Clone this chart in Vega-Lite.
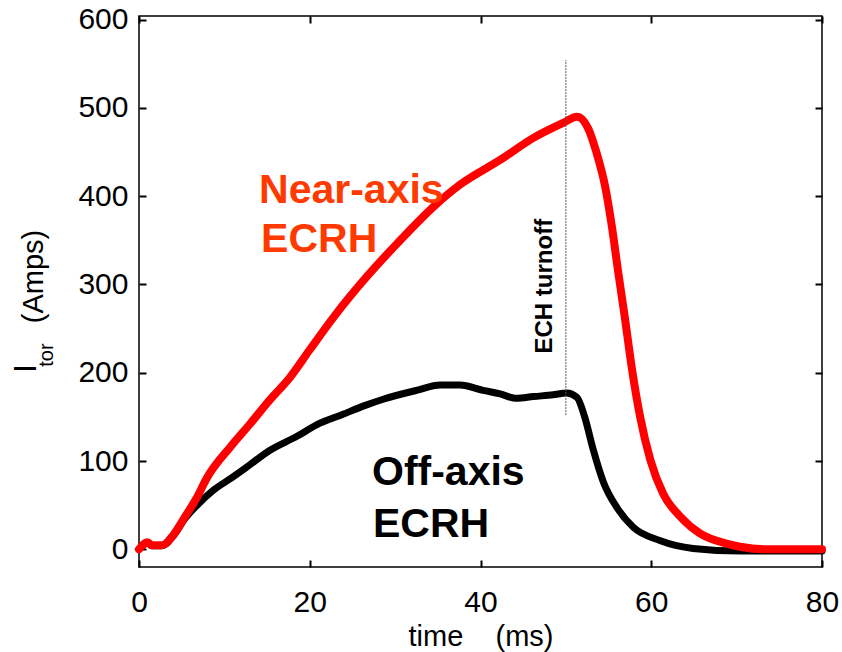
{
  "$schema": "https://vega.github.io/schema/vega-lite/v6.json",
  "width": 683,
  "height": 551,
  "autosize": {"type": "none"},
  "padding": {"left": 139, "top": 16, "right": 20, "bottom": 85},
  "background": "white",
  "config": {
    "view": {"stroke": "black", "strokeWidth": 1.5},
    "axis": {
      "grid": false,
      "domain": false,
      "ticks": true,
      "tickColor": "black",
      "tickSize": 7,
      "tickWidth": 2,
      "labelFlush": false,
      "labelOverlap": false,
      "labelFont": "Liberation Sans",
      "labelFontSize": 30,
      "labelColor": "black",
      "titleFont": "Liberation Sans",
      "titleFontSize": 29,
      "titleFontWeight": "normal",
      "titleColor": "black"
    },
    "text": {"font": "Liberation Sans"}
  },
  "datasets": {
    "offAxis": [
      {"t": 0, "amps": 0}, {"t": 1.0, "amps": 7}, {"t": 1.5, "amps": 4}, {"t": 2.7, "amps": 4},
      {"t": 4.0, "amps": 15}, {"t": 5.4, "amps": 35}, {"t": 6.8, "amps": 50}, {"t": 8.7, "amps": 67},
      {"t": 10.7, "amps": 80}, {"t": 12.6, "amps": 93}, {"t": 15.3, "amps": 112}, {"t": 18.5, "amps": 128},
      {"t": 20.8, "amps": 141}, {"t": 23.9, "amps": 153}, {"t": 26.5, "amps": 163}, {"t": 28.6, "amps": 170},
      {"t": 32.5, "amps": 180}, {"t": 35.3, "amps": 186}, {"t": 37.6, "amps": 186}, {"t": 40.3, "amps": 180},
      {"t": 42.3, "amps": 176}, {"t": 44.2, "amps": 171}, {"t": 46.2, "amps": 173}, {"t": 48.5, "amps": 175},
      {"t": 50.1, "amps": 177}, {"t": 51.3, "amps": 172}, {"t": 52.2, "amps": 150}, {"t": 53.2, "amps": 113},
      {"t": 54.4, "amps": 76}, {"t": 56.0, "amps": 47}, {"t": 57.9, "amps": 25}, {"t": 61.0, "amps": 10},
      {"t": 64.9, "amps": 1}, {"t": 70.4, "amps": -2}, {"t": 80, "amps": -2}
    ],
    "nearAxis": [
      {"t": 0, "amps": 0}, {"t": 1.0, "amps": 8}, {"t": 1.5, "amps": 4.5}, {"t": 2.7, "amps": 4.5},
      {"t": 4.0, "amps": 16}, {"t": 5.4, "amps": 37}, {"t": 6.8, "amps": 59}, {"t": 7.9, "amps": 80},
      {"t": 10.7, "amps": 116}, {"t": 13.0, "amps": 142}, {"t": 15.3, "amps": 169}, {"t": 17.7, "amps": 195},
      {"t": 20.0, "amps": 226}, {"t": 22.8, "amps": 263}, {"t": 26.7, "amps": 309}, {"t": 30.6, "amps": 350},
      {"t": 34.5, "amps": 388}, {"t": 37.6, "amps": 413}, {"t": 42.3, "amps": 441}, {"t": 46.2, "amps": 466},
      {"t": 49.7, "amps": 483}, {"t": 51.3, "amps": 490}, {"t": 52.6, "amps": 477}, {"t": 53.6, "amps": 449},
      {"t": 54.6, "amps": 411}, {"t": 55.4, "amps": 365}, {"t": 56.1, "amps": 316}, {"t": 56.9, "amps": 263},
      {"t": 57.7, "amps": 207}, {"t": 58.7, "amps": 150}, {"t": 59.9, "amps": 101}, {"t": 61.4, "amps": 63},
      {"t": 63.4, "amps": 37}, {"t": 65.7, "amps": 18}, {"t": 68.8, "amps": 6.5}, {"t": 70.4, "amps": 3},
      {"t": 73.5, "amps": 0}, {"t": 80, "amps": 0}
    ],
    "turnoff": [
      {"t": 50, "from": 152, "to": 554, "label": "ECH turnoff", "labelT": 48.37, "labelAmps": 298}
    ],
    "curveLabels": [
      {"t": 14.06, "amps": 392, "label": "Near-axis", "series": "near"},
      {"t": 14.3, "amps": 337, "label": "ECRH", "series": "near"},
      {"t": 27.29, "amps": 72.6, "label": "Off-axis", "series": "off"},
      {"t": 27.4, "amps": 13.6, "label": "ECRH", "series": "off"}
    ],
    "yTitle": [
      {"t": -12.06, "amps": 205, "label": "I", "size": 31},
      {"t": -10.07, "amps": 220, "label": "tor", "size": 20}
    ]
  },
  "layer": [
    {
      "layer": [
        {
          "data": {"name": "offAxis"},
          "mark": {"type": "line", "color": "black", "strokeWidth": 7, "interpolate": "monotone", "strokeJoin": "round", "strokeCap": "round"},
          "encoding": {
            "x": {
              "field": "t", "type": "quantitative",
              "scale": {"domain": [0, 80], "nice": false, "zero": false},
              "axis": {
                "orient": "bottom", "offset": -7, "values": [0, 20, 40, 60, 80], "labelPadding": 20,
                "title": "time\u00a0\u00a0\u00a0\u00a0(ms)", "titleBaseline": "alphabetic", "titleY": 85, "titleAnchor": "middle"
              }
            },
            "y": {
              "field": "amps", "type": "quantitative",
              "scale": {"domain": [-20, 604], "nice": false, "zero": false},
              "axis": {
                "orient": "left", "offset": -7, "values": [0, 100, 200, 300, 400, 500, 600], "labelPadding": 11,
                "title": "(Amps)", "titleAngle": 270, "titleAlign": "center", "titleBaseline": "alphabetic",
                "titleX": -104, "titleY": 260
              }
            }
          }
        },
        {
          "data": {"name": "nearAxis"},
          "mark": {"type": "line", "color": "#ff0000", "strokeWidth": 8, "interpolate": "monotone", "strokeJoin": "round", "strokeCap": "round"},
          "encoding": {
            "x": {"field": "t", "type": "quantitative"},
            "y": {"field": "amps", "type": "quantitative"}
          }
        },
        {
          "data": {"name": "turnoff"},
          "mark": {"type": "text", "angle": 270, "fontWeight": "bold", "fontSize": 24, "align": "center", "baseline": "alphabetic", "color": "black"},
          "encoding": {
            "x": {"field": "labelT", "type": "quantitative"},
            "y": {"field": "labelAmps", "type": "quantitative"},
            "text": {"field": "label"}
          }
        },
        {
          "data": {"name": "curveLabels"},
          "mark": {"type": "text", "fontWeight": "bold", "fontSize": 41, "align": "left", "baseline": "alphabetic"},
          "encoding": {
            "x": {"field": "t", "type": "quantitative"},
            "y": {"field": "amps", "type": "quantitative"},
            "text": {"field": "label"},
            "color": {"field": "series", "type": "nominal", "scale": {"domain": ["near", "off"], "range": ["#ff3a00", "#000000"]}, "legend": null}
          }
        },
        {
          "data": {"name": "yTitle"},
          "mark": {"type": "text", "angle": 270, "align": "center", "baseline": "alphabetic", "color": "black"},
          "encoding": {
            "x": {"field": "t", "type": "quantitative"},
            "y": {"field": "amps", "type": "quantitative"},
            "text": {"field": "label"},
            "size": {"field": "size", "type": "quantitative", "scale": null, "legend": null}
          }
        }
      ]
    },
    {
      "data": {"name": "turnoff"},
      "mark": {"type": "rule", "color": "#555555", "strokeWidth": 1, "strokeDash": [2, 1]},
      "encoding": {
        "x": {"field": "t", "type": "quantitative",
              "scale": {"domain": [0, 80], "nice": false, "zero": false},
              "axis": {"orient": "top", "offset": -7, "values": [0, 20, 40, 60, 80], "labels": false, "title": null}},
        "y": {"field": "from", "type": "quantitative",
              "scale": {"domain": [-20, 604], "nice": false, "zero": false},
              "axis": {"orient": "right", "offset": -7, "values": [0, 100, 200, 300, 400, 500, 600], "labels": false, "title": null}},
        "y2": {"field": "to"}
      }
    }
  ],
  "resolve": {"scale": {"x": "independent", "y": "independent"}}
}
